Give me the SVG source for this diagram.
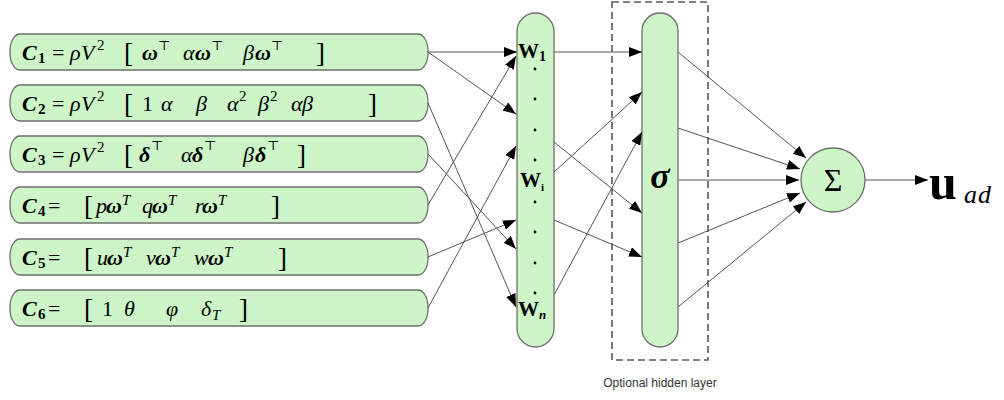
<svg xmlns="http://www.w3.org/2000/svg" width="1004" height="400" viewBox="0 0 1004 400">
  <style>
    .box { fill: #cdf5c8; stroke: #6e6e6e; stroke-width: 1.3; }
    .col { fill: #cdf5c8; stroke: #6e6e6e; stroke-width: 1.3; }
    .f { font-family: "Liberation Serif", "DejaVu Serif", serif; font-size: 22px; fill: #000; }
    .bi { font-weight: bold; font-style: italic; }
    .it { font-style: italic; }
    .bd { font-weight: bold; }
    .sm { font-size: 15px; }
    .tp { font-size: 13px; }
    .br { font-size: 27px; }
    .wire { stroke: #555; stroke-width: 1; fill: none; marker-end: url(#ah); }
    .dot { fill: #000; }
  </style>
  <defs>
    <marker id="ah" markerUnits="userSpaceOnUse" markerWidth="14" markerHeight="10" refX="13" refY="5" orient="auto">
      <path d="M0,0 L13,5 L0,10 Z" fill="#000"/>
    </marker>
  </defs>

  <!-- input regressor blocks -->
  <g id="c1">
    <rect class="box" x="10" y="34" width="418" height="36" rx="10" ry="17"/>
    <text class="f" y="60">
      <tspan class="bi" x="22">C</tspan><tspan class="bd sm" x="38" dy="3">1</tspan><tspan x="52" dy="-3">=</tspan><tspan class="it" x="70">ρ</tspan><tspan class="it" x="81">V</tspan><tspan class="sm" x="97" dy="-10">2</tspan><tspan class="br" x="124" dy="12">[</tspan><tspan class="bi" x="142" dy="-2">ω</tspan><tspan class="tp" x="158" dy="-10">⊤</tspan><tspan class="it" x="183" dy="10">α</tspan><tspan class="bi" x="195">ω</tspan><tspan class="tp" x="211" dy="-10">⊤</tspan><tspan class="it" x="243" dy="10">β</tspan><tspan class="bi" x="255">ω</tspan><tspan class="tp" x="271" dy="-10">⊤</tspan><tspan class="br" x="316" dy="12">]</tspan>
    </text>
  </g>
  <g id="c2">
    <rect class="box" x="10" y="85" width="418" height="36" rx="10" ry="17"/>
    <text class="f" y="111">
      <tspan class="bi" x="22">C</tspan><tspan class="bd sm" x="38" dy="3">2</tspan><tspan x="52" dy="-3">=</tspan><tspan class="it" x="70">ρ</tspan><tspan class="it" x="81">V</tspan><tspan class="sm" x="97" dy="-10">2</tspan><tspan class="br" x="124" dy="12">[</tspan><tspan x="142" dy="-2">1</tspan><tspan class="it" x="161">α</tspan><tspan class="it" x="196">β</tspan><tspan class="it" x="227">α</tspan><tspan class="sm" x="239" dy="-10">2</tspan><tspan class="it" x="258" dy="10">β</tspan><tspan class="sm" x="270" dy="-10">2</tspan><tspan class="it" x="291" dy="10">α</tspan><tspan class="it" x="302">β</tspan><tspan class="br" x="368" dy="2">]</tspan>
    </text>
  </g>
  <g id="c3">
    <rect class="box" x="10" y="136" width="418" height="36" rx="10" ry="17"/>
    <text class="f" y="162">
      <tspan class="bi" x="22">C</tspan><tspan class="bd sm" x="38" dy="3">3</tspan><tspan x="52" dy="-3">=</tspan><tspan class="it" x="70">ρ</tspan><tspan class="it" x="81">V</tspan><tspan class="sm" x="97" dy="-10">2</tspan><tspan class="br" x="124" dy="12">[</tspan><tspan class="bi" x="139" dy="-2">δ</tspan><tspan class="tp" x="151" dy="-12">⊤</tspan><tspan class="it" x="181" dy="12">α</tspan><tspan class="bi" x="192">δ</tspan><tspan class="tp" x="204" dy="-12">⊤</tspan><tspan class="it" x="243" dy="12">β</tspan><tspan class="bi" x="255">δ</tspan><tspan class="tp" x="267" dy="-12">⊤</tspan><tspan class="br" x="297" dy="14">]</tspan>
    </text>
  </g>
  <g id="c4">
    <rect class="box" x="10" y="187" width="418" height="36" rx="10" ry="17"/>
    <text class="f" y="213">
      <tspan class="bi" x="22">C</tspan><tspan class="bd sm" x="38" dy="3">4</tspan><tspan x="48" dy="-3">=</tspan><tspan class="br" x="84" dy="2">[</tspan><tspan class="it" x="96" dy="-2">p</tspan><tspan class="bi" x="106">ω</tspan><tspan class="it sm" x="122" dy="-8">T</tspan><tspan class="it" x="142" dy="8">q</tspan><tspan class="bi" x="152">ω</tspan><tspan class="it sm" x="168" dy="-8">T</tspan><tspan class="it" x="195" dy="8">r</tspan><tspan class="bi" x="202">ω</tspan><tspan class="it sm" x="218" dy="-8">T</tspan><tspan class="br" x="271" dy="10">]</tspan>
    </text>
  </g>
  <g id="c5">
    <rect class="box" x="10" y="239" width="418" height="36" rx="10" ry="17"/>
    <text class="f" y="265">
      <tspan class="bi" x="22">C</tspan><tspan class="bd sm" x="38" dy="3">5</tspan><tspan x="48" dy="-3">=</tspan><tspan class="br" x="84" dy="2">[</tspan><tspan class="it" x="97" dy="-2">u</tspan><tspan class="bi" x="107">ω</tspan><tspan class="it sm" x="123" dy="-8">T</tspan><tspan class="it" x="146" dy="8">v</tspan><tspan class="bi" x="155">ω</tspan><tspan class="it sm" x="171" dy="-8">T</tspan><tspan class="it" x="194" dy="8">w</tspan><tspan class="bi" x="208">ω</tspan><tspan class="it sm" x="224" dy="-8">T</tspan><tspan class="br" x="278" dy="10">]</tspan>
    </text>
  </g>
  <g id="c6">
    <rect class="box" x="10" y="290" width="418" height="36" rx="10" ry="17"/>
    <text class="f" y="316">
      <tspan class="bi" x="22">C</tspan><tspan class="bd sm" x="38" dy="3">6</tspan><tspan x="48" dy="-3">=</tspan><tspan class="br" x="84" dy="2">[</tspan><tspan x="102" dy="-2">1</tspan><tspan class="it" x="124">θ</tspan><tspan class="it" x="166">φ</tspan><tspan class="it" x="201">δ</tspan><tspan class="it sm" x="212" dy="4">T</tspan><tspan class="br" x="239" dy="-2">]</tspan>
    </text>
  </g>

  <!-- weight layer -->
  <g id="weights">
    <rect class="col" x="517" y="13" width="37" height="334" rx="18.5" ry="18.5"/>
    <text class="f bd" x="518" y="58" style="font-size:21px">W<tspan dy="3" style="font-size:14px">1</tspan></text>
    <text class="f bd" x="520" y="187" style="font-size:21px">W<tspan dy="4" style="font-size:11px">i</tspan></text>
    <text class="f bd" x="518" y="316" style="font-size:21px">W<tspan dy="3" style="font-size:13px;font-style:italic">n</tspan></text>
    <circle class="dot" cx="535" cy="69" r="1.4"/>
    <circle class="dot" cx="535" cy="99" r="1.4"/>
    <circle class="dot" cx="535" cy="130" r="1.4"/>
    <circle class="dot" cx="535" cy="160" r="1.4"/>
    <circle class="dot" cx="535" cy="202" r="1.4"/>
    <circle class="dot" cx="535" cy="232" r="1.4"/>
    <circle class="dot" cx="535" cy="263" r="1.4"/>
    <circle class="dot" cx="535" cy="293" r="1.4"/>
  </g>

  <!-- optional hidden layer -->
  <g id="hidden">
    <rect x="612" y="2" width="96" height="358" fill="none" stroke="#5a5a5a" stroke-width="1.6" stroke-dasharray="7,4"/>
    <rect class="col" x="642" y="13" width="36" height="334" rx="18" ry="18"/>
    <text class="f bi" x="660" y="188" text-anchor="middle" style="font-size:36px">σ</text>
    <text x="660" y="387" font-family="Liberation Sans, Arial, sans-serif" font-size="12" fill="#333" text-anchor="middle">Optional hidden layer</text>
  </g>

  <!-- summation node -->
  <g id="sum">
    <circle cx="833" cy="180" r="32" fill="#cdf5c8" stroke="#6e6e6e" stroke-width="1.3"/>
    <text x="833" y="191" font-family="Liberation Serif, DejaVu Serif, serif" font-size="32" text-anchor="middle">Σ</text>
  </g>

  <!-- output -->
  <g id="output">
    <text x="929" y="199" font-family="Liberation Serif, DejaVu Serif, serif" font-size="50" font-weight="bold">u</text>
    <text x="964" y="203" font-family="Liberation Serif, DejaVu Serif, serif" font-size="26" font-style="italic" letter-spacing="1">ad</text>
  </g>

  <!-- connectors -->
  <g id="connectors">
    <line class="wire" x1="428" y1="52" x2="517" y2="52"/>
    <line class="wire" x1="428" y1="52" x2="516" y2="114"/>
    <line class="wire" x1="428" y1="103" x2="516" y2="307"/>
    <line class="wire" x1="428" y1="154" x2="516" y2="249"/>
    <line class="wire" x1="428" y1="205" x2="516" y2="56"/>
    <line class="wire" x1="428" y1="257" x2="516" y2="220"/>
    <line class="wire" x1="428" y1="308" x2="516" y2="146"/>

    <line class="wire" x1="554" y1="52" x2="642" y2="52"/>
    <line class="wire" x1="554" y1="172" x2="642" y2="92"/>
    <line class="wire" x1="554" y1="142" x2="642" y2="213"/>
    <line class="wire" x1="554" y1="220" x2="642" y2="257"/>
    <line class="wire" x1="554" y1="295" x2="642" y2="132"/>

    <line class="wire" x1="678" y1="52" x2="806" y2="158"/>
    <line class="wire" x1="678" y1="128" x2="800" y2="169"/>
    <line class="wire" x1="678" y1="180" x2="799" y2="180"/>
    <line class="wire" x1="678" y1="243" x2="800" y2="193"/>
    <line class="wire" x1="678" y1="307" x2="806" y2="202"/>

    <line class="wire" x1="865" y1="180" x2="928" y2="180"/>
  </g>
</svg>
